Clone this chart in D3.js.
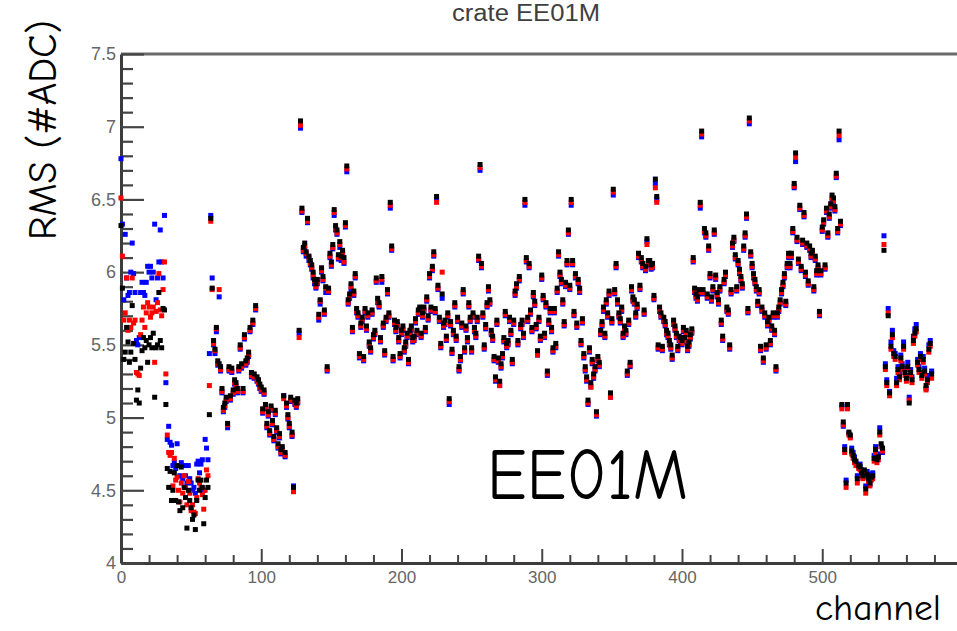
<!DOCTYPE html>
<html>
<head>
<meta charset="utf-8">
<script src="https://cdn.jsdelivr.net/npm/d3@7"></script>
<style>
  html, body { margin: 0; padding: 0; background: #fff; }
  svg { display: block; }
</style>
</head>
<body>
<svg id="chart" width="957" height="631"></svg>
<script>
// RMS noise per channel for crate EE01M, three runs (blue, red, black).
const titleText = "crate EE01M";
const yLabel = "RMS (#ADC)";
const xLabel = "channel";
const crateLabel = "EE01M";
const xMajorTicks = [0, 100, 200, 300, 400, 500];
const yMajorTicks = [4, 4.5, 5, 5.5, 6, 6.5, 7, 7.5];

const rmsBlack = [
6.32,5.89,5.40,5.45,5.62,5.52,5.38,5.45,5.77,5.51,
5.40,5.12,5.19,5.10,5.34,5.46,5.55,5.48,5.53,5.38,
5.50,5.55,5.48,5.58,5.14,5.48,5.50,5.86,5.53,5.48,
5.75,5.74,5.09,4.65,4.52,4.63,4.43,4.50,4.62,4.43,
4.67,4.42,4.36,4.66,4.38,4.52,4.45,4.24,4.50,4.43,
4.38,4.30,4.33,4.23,4.43,4.57,4.50,4.57,4.52,4.27,
4.45,4.57,4.52,5.02,6.37,5.89,5.53,5.47,5.62,5.39,
5.37,5.35,5.20,5.07,5.10,5.14,4.96,5.35,5.15,5.34,
5.19,5.26,5.24,5.20,5.35,5.50,5.37,5.20,5.57,5.39,
5.41,5.45,5.62,5.31,5.67,5.30,5.77,5.28,5.26,5.23,
5.21,5.06,5.19,5.09,4.96,5.04,4.91,5.08,4.98,4.87,
5.05,4.93,4.82,4.89,4.78,4.80,5.15,4.76,5.10,5.02,
4.96,5.14,4.90,4.52,5.12,5.10,5.13,5.60,7.04,6.44,
6.17,6.20,6.14,6.37,6.11,6.08,6.05,6.00,5.95,5.92,
5.95,5.71,5.81,6.03,5.97,5.74,5.90,5.35,5.89,6.13,
6.07,6.19,6.43,6.32,6.29,6.12,6.21,6.11,6.15,6.10,
6.34,6.73,5.81,5.85,5.92,5.62,5.87,5.99,5.75,5.72,
5.44,5.65,5.69,5.42,5.75,5.63,5.72,5.52,5.48,5.74,
5.57,5.60,5.96,5.82,5.79,5.55,5.97,5.65,5.46,5.69,
5.88,5.72,6.48,6.18,5.42,5.67,5.62,5.66,5.55,5.44,
5.60,5.63,5.48,5.52,5.58,5.40,5.60,5.63,5.55,5.56,
5.68,5.60,5.74,5.76,5.58,5.72,5.76,5.62,5.83,5.70,
5.99,5.76,6.04,6.14,5.75,6.52,5.91,5.69,5.51,5.85,
5.65,5.67,5.56,5.72,5.13,5.66,5.47,5.60,5.79,5.56,
5.69,5.35,5.42,5.65,5.88,5.48,5.63,5.55,5.79,5.69,
5.48,5.72,5.62,5.58,5.69,6.11,6.74,6.06,5.72,5.50,
5.64,5.79,5.90,5.81,5.60,5.56,5.42,5.28,5.67,5.41,
5.25,5.37,5.44,5.55,5.73,5.51,5.53,5.69,5.60,5.40,
5.67,5.87,5.92,5.53,5.97,5.64,5.67,5.58,6.50,6.10,
5.69,6.06,5.74,5.62,5.86,5.80,5.64,5.46,5.69,5.56,
5.98,5.84,5.58,5.79,5.32,5.67,5.75,5.62,5.48,5.75,
5.51,5.89,6.14,6.00,5.95,5.81,5.66,5.93,6.08,6.29,
5.91,6.50,6.08,5.73,5.99,5.65,5.95,5.89,5.53,5.68,
5.44,5.35,5.28,5.12,5.48,5.24,5.40,5.30,5.35,5.04,
5.42,5.38,5.60,5.66,5.76,5.58,5.81,5.72,5.87,5.17,
5.68,6.57,5.88,6.06,5.81,5.72,5.68,5.76,5.58,5.63,
5.60,5.32,5.67,5.38,5.90,5.83,5.81,5.72,5.78,6.13,
5.91,6.10,6.06,5.74,6.04,6.23,6.08,6.08,6.05,6.06,
5.84,6.64,6.52,5.50,5.76,5.72,5.49,5.69,5.66,5.60,
5.58,5.53,5.50,5.43,5.67,5.63,5.58,5.49,5.56,5.55,
5.53,5.62,5.55,5.60,5.49,5.52,5.57,5.61,6.10,5.89,
5.85,5.83,5.88,6.48,6.97,5.88,6.30,6.27,5.85,6.18,
5.99,5.83,5.90,6.29,5.98,5.86,5.81,5.90,5.67,5.56,
5.95,6.00,5.76,5.74,5.50,5.88,6.20,6.24,6.12,5.90,
6.08,6.02,5.97,5.92,6.18,6.27,6.40,5.75,7.06,6.14,
6.06,5.99,5.95,5.90,5.80,5.88,5.49,5.76,5.41,5.72,
5.50,5.66,5.69,5.53,5.63,5.72,5.60,5.35,5.72,5.76,
5.81,5.88,5.93,5.99,5.80,6.06,6.13,6.06,6.13,6.30,
6.61,6.82,6.24,6.09,6.46,6.04,6.22,6.41,6.00,6.20,
5.94,6.18,6.13,6.15,5.90,6.11,6.01,6.05,5.73,6.01,
6.31,6.36,6.05,6.44,6.27,6.40,6.47,6.53,6.51,6.45,
6.68,6.30,6.97,6.35,5.09,4.97,4.78,4.55,5.09,4.90,
4.88,4.77,4.74,4.71,4.70,4.58,4.67,4.66,4.62,4.60,
4.64,4.51,4.61,4.58,4.55,4.59,4.60,4.72,4.78,4.71,
4.73,4.90,4.82,4.79,6.15,5.35,5.24,5.70,5.17,5.49,
5.57,5.44,5.42,5.24,5.33,5.28,5.41,5.35,5.49,5.31,
5.27,5.35,5.10,5.31,5.26,5.53,5.58,5.61,5.38,5.33,
5.42,5.29,5.40,5.32,5.22,5.26,5.47,5.51,5.30
];

const rmsRed = [
6.51,6.11,5.67,5.72,5.96,5.60,5.67,5.62,5.96,5.65,
5.67,5.31,5.30,5.29,5.57,5.67,5.76,5.62,5.72,5.79,
5.76,5.69,5.72,5.76,5.38,5.73,5.79,5.99,5.74,5.70,
5.88,6.07,5.30,4.88,4.76,4.74,4.76,4.53,4.72,4.57,
4.59,4.50,4.42,4.55,4.48,4.60,4.52,4.40,4.56,4.48,
4.36,4.40,4.35,4.34,4.45,4.58,4.55,4.52,4.47,4.37,
4.50,4.64,4.60,5.22,6.35,5.88,5.51,5.46,5.61,5.37,
5.88,5.33,5.18,5.05,5.08,5.12,4.95,5.33,5.13,5.32,
5.17,5.24,5.22,5.18,5.33,5.48,5.35,5.18,5.55,5.37,
5.39,5.43,5.60,5.29,5.65,5.28,5.75,5.26,5.24,5.21,
5.19,5.04,5.17,5.07,4.94,5.02,4.89,5.06,4.96,4.85,
5.03,4.91,4.80,4.87,4.76,4.78,5.13,4.74,5.08,5.00,
4.94,5.12,4.88,4.49,5.10,5.08,5.11,5.55,7.01,6.42,
6.15,6.18,6.13,6.35,6.10,6.06,6.03,5.98,5.94,5.90,
5.93,5.69,5.80,6.01,5.95,5.72,5.89,5.33,5.87,6.11,
6.05,6.17,6.41,6.30,6.27,6.10,6.19,6.10,6.13,6.07,
6.32,6.71,5.79,5.83,5.90,5.60,5.85,5.97,5.73,5.70,
5.42,5.63,5.67,5.40,5.73,5.61,5.70,5.50,5.46,5.72,
5.55,5.58,5.94,5.80,5.77,5.53,5.95,5.63,5.44,5.67,
5.86,5.70,6.46,6.16,5.40,5.65,5.60,5.64,5.53,5.42,
5.58,5.61,5.46,5.50,5.56,5.38,5.58,5.61,5.53,5.54,
5.66,5.58,5.72,5.74,5.56,5.70,5.74,5.60,5.81,5.68,
5.97,5.74,6.02,6.12,5.73,6.48,5.89,5.67,5.49,6.00,
5.63,5.65,5.54,5.70,5.11,5.64,5.45,5.58,5.77,5.54,
5.67,5.33,5.40,5.63,5.86,5.46,5.61,5.53,5.77,5.67,
5.46,5.70,5.60,5.56,5.67,6.09,6.72,6.04,5.70,5.48,
5.62,5.77,5.88,5.79,5.58,5.54,5.40,5.26,5.65,5.39,
5.22,5.35,5.42,5.53,5.71,5.49,5.51,5.67,5.58,5.38,
5.65,5.85,5.90,5.51,5.95,5.62,5.65,5.56,6.48,6.08,
5.67,6.04,5.72,5.60,5.84,5.78,5.62,5.43,5.67,5.54,
5.96,5.82,5.56,5.77,5.30,5.65,5.73,5.60,5.46,5.73,
5.49,5.87,6.12,5.98,5.93,5.79,5.64,5.91,6.06,6.27,
5.89,6.48,6.06,5.71,5.97,5.63,5.93,5.87,5.51,5.66,
5.42,5.33,5.26,5.10,5.46,5.21,5.38,5.28,5.33,5.02,
5.40,5.36,5.58,5.64,5.74,5.56,5.79,5.70,5.85,5.14,
5.66,6.55,5.86,6.04,5.79,5.70,5.66,5.74,5.56,5.61,
5.58,5.30,5.65,5.36,5.88,5.81,5.79,5.70,5.76,6.11,
5.89,6.08,6.04,5.72,6.02,6.19,6.06,6.06,6.03,6.04,
5.82,6.58,6.48,5.48,5.74,5.70,5.47,5.67,5.64,5.58,
5.56,5.51,5.48,5.41,5.65,5.61,5.56,5.47,5.54,5.53,
5.51,5.60,5.53,5.58,5.47,5.50,5.55,5.59,6.08,5.87,
5.83,5.81,5.86,6.46,6.95,5.86,6.28,6.25,5.83,6.16,
5.97,5.81,5.88,6.27,5.96,5.84,5.79,5.88,5.65,5.54,
5.93,5.98,5.74,5.72,5.48,5.86,6.18,6.22,6.10,5.88,
6.06,6.00,5.95,5.90,6.16,6.25,6.38,5.73,7.04,6.12,
6.04,5.97,5.93,5.88,5.78,5.86,5.47,5.74,5.39,5.70,
5.48,5.64,5.67,5.51,5.61,5.70,5.58,5.33,5.70,5.74,
5.79,5.86,5.91,5.97,5.78,6.04,6.11,6.04,6.11,6.28,
6.59,6.79,6.22,6.07,6.44,6.02,6.20,6.39,5.98,6.18,
5.92,6.16,6.11,6.13,5.88,6.09,5.99,6.03,5.71,5.99,
6.29,6.34,6.03,6.42,6.25,6.38,6.45,6.51,6.49,6.43,
6.66,6.28,6.94,6.33,5.06,4.95,4.76,4.52,5.06,4.88,
4.86,4.75,4.72,4.69,4.67,4.55,4.65,4.64,4.60,4.58,
4.62,4.48,4.59,4.56,4.53,4.57,4.58,4.70,4.76,4.69,
4.71,4.88,4.80,4.77,6.19,5.33,5.22,5.72,5.15,5.47,
5.55,5.42,5.40,5.22,5.31,5.26,5.39,5.33,5.47,5.29,
5.25,5.33,5.12,5.29,5.24,5.51,5.56,5.59,5.36,5.31,
5.40,5.27,5.38,5.30,5.19,5.24,5.45,5.49,5.27
];

const rmsBlue = [
6.78,6.33,5.81,6.26,5.96,5.84,5.86,6.00,6.20,5.99,
5.86,5.53,5.50,5.55,5.86,5.93,5.86,5.84,5.93,6.04,
6.00,6.04,5.96,6.00,6.33,5.81,5.96,6.07,6.29,6.07,
5.96,6.39,5.24,4.85,4.94,4.83,4.81,4.67,4.69,4.65,
4.82,4.67,4.60,4.69,4.58,4.67,4.60,4.55,4.67,4.58,
4.55,4.50,4.52,4.48,4.68,4.70,4.62,4.68,4.71,4.50,
4.85,4.79,4.71,5.44,6.39,5.96,5.50,5.44,5.59,5.36,
5.83,5.32,5.17,5.04,5.07,5.11,4.93,5.32,5.12,5.31,
5.16,5.23,5.21,5.17,5.32,5.47,5.34,5.17,5.54,5.36,
5.38,5.42,5.59,5.28,5.64,5.27,5.74,5.25,5.23,5.20,
5.18,5.03,5.16,5.06,4.93,5.01,4.88,5.05,4.95,4.84,
5.02,4.90,4.79,4.86,4.75,4.77,5.15,4.73,5.07,4.99,
4.93,5.11,4.87,4.53,5.09,5.07,5.10,5.58,6.99,6.41,
6.14,6.16,6.11,6.34,6.08,6.05,6.02,5.96,5.92,5.89,
5.92,5.67,5.78,6.00,5.94,5.71,5.86,5.32,5.86,6.10,
6.04,6.16,6.39,6.29,6.26,6.09,6.17,6.08,6.12,6.06,
6.31,6.69,5.78,5.82,5.88,5.59,5.84,5.96,5.72,5.69,
5.41,5.62,5.66,5.39,5.72,5.60,5.69,5.49,5.45,5.71,
5.54,5.57,5.93,5.79,5.76,5.52,5.93,5.62,5.43,5.66,
5.85,5.69,6.44,6.15,5.39,5.64,5.59,5.63,5.52,5.41,
5.57,5.60,5.45,5.49,5.55,5.37,5.57,5.60,5.52,5.53,
5.65,5.57,5.71,5.73,5.55,5.69,5.73,5.59,5.80,5.67,
5.96,5.73,6.01,6.11,5.72,6.50,5.88,5.66,5.48,5.82,
5.62,5.64,5.53,5.69,5.09,5.63,5.44,5.57,5.76,5.53,
5.66,5.32,5.39,5.62,5.85,5.45,5.60,5.52,5.76,5.66,
5.45,5.69,5.59,5.55,5.66,6.08,6.70,6.03,5.69,5.47,
5.61,5.76,5.87,5.78,5.57,5.53,5.39,5.25,5.64,5.38,
5.22,5.34,5.41,5.52,5.70,5.48,5.50,5.66,5.57,5.37,
5.64,5.84,5.89,5.50,5.94,5.61,5.64,5.55,6.46,6.07,
5.66,6.03,5.71,5.59,5.83,5.77,5.61,5.43,5.66,5.53,
5.95,5.81,5.55,5.76,5.29,5.64,5.72,5.59,5.45,5.72,
5.48,5.86,6.11,5.97,5.92,5.78,5.63,5.90,6.05,6.26,
5.88,6.46,6.05,5.70,5.96,5.62,5.92,5.86,5.50,5.65,
5.41,5.32,5.25,5.09,5.45,5.21,5.37,5.27,5.32,5.01,
5.39,5.35,5.57,5.63,5.73,5.55,5.78,5.69,5.84,5.14,
5.65,6.53,5.85,6.03,5.78,5.69,5.65,5.73,5.55,5.60,
5.57,5.29,5.64,5.35,5.87,5.80,5.78,5.69,5.75,6.10,
5.88,6.07,6.03,5.71,6.01,6.21,6.05,6.05,6.02,6.03,
5.81,6.61,6.50,5.47,5.73,5.69,5.46,5.66,5.63,5.57,
5.55,5.50,5.47,5.40,5.64,5.60,5.55,5.46,5.53,5.52,
5.50,5.59,5.52,5.57,5.46,5.49,5.54,5.58,6.07,5.86,
5.82,5.80,5.85,6.44,6.93,5.85,6.27,6.24,5.82,6.15,
5.96,5.80,5.87,6.26,5.95,5.83,5.78,5.87,5.64,5.53,
5.92,5.97,5.73,5.71,5.47,5.85,6.17,6.21,6.09,5.87,
6.05,5.99,5.94,5.89,6.15,6.24,6.37,5.72,7.02,6.11,
6.03,5.96,5.92,5.87,5.77,5.85,5.46,5.73,5.38,5.69,
5.47,5.63,5.66,5.50,5.60,5.69,5.57,5.32,5.69,5.73,
5.78,5.85,5.90,5.96,5.77,6.03,6.10,6.03,6.10,6.27,
6.58,6.76,6.21,6.06,6.43,6.01,6.19,6.38,5.97,6.17,
5.91,6.15,6.10,6.12,5.87,6.08,5.98,6.02,5.70,5.98,
6.28,6.33,6.02,6.41,6.24,6.37,6.44,6.50,6.48,6.42,
6.65,6.27,6.91,6.32,5.08,4.94,4.80,4.57,5.08,4.89,
4.87,4.79,4.76,4.73,4.69,4.60,4.66,4.68,4.64,4.59,
4.63,4.53,4.63,4.57,4.54,4.61,4.62,4.74,4.80,4.73,
4.75,4.93,4.80,4.76,6.25,5.37,5.26,5.75,5.18,5.52,
5.60,5.46,5.44,5.27,5.35,5.30,5.43,5.37,5.52,5.34,
5.29,5.38,5.14,5.33,5.28,5.56,5.61,5.64,5.40,5.35,
5.44,5.31,5.42,5.34,5.20,5.29,5.50,5.53,5.32
];

const seriesList = [
  { name: "blue", color: "#0000ff", values: rmsBlue },
  { name: "red", color: "#ff0000", values: rmsRed },
  { name: "black", color: "#000000", values: rmsBlack }
];

const svg = d3.select("#chart");

const x = d3.scaleLinear().domain([0, 600]).range([121, 121 + 600 * 1.4025]);
const y = d3.scaleLinear().domain([4, 7.5]).range([563, 54]);

const labelFont = "'Liberation Sans', Arial, Helvetica, sans-serif";
const handFont = "'Comic Sans MS', 'Comic Neue', 'DejaVu Sans', sans-serif";
const tickColor = "#444";

// Title
svg.append("text")
  .attr("x", 526).attr("y", 21)
  .attr("text-anchor", "middle")
  .attr("font-family", labelFont)
  .attr("font-size", 23)
  .attr("textLength", 148)
  .attr("lengthAdjust", "spacingAndGlyphs")
  .attr("fill", "#404040")
  .text(titleText);

// Top frame line
svg.append("line")
  .attr("x1", x(0)).attr("x2", 957)
  .attr("y1", y(7.5)).attr("y2", y(7.5))
  .attr("stroke", "#6a6a6a").attr("stroke-width", 3);

// X axis: minor then major ticks, pointing into the plot
const xMinor = d3.range(0, 601, 20).filter(v => v % 100 !== 0);
svg.append("g")
  .attr("transform", `translate(0,${y(4)})`)
  .call(d3.axisBottom(x).tickValues(xMinor).tickSizeInner(-8).tickSizeOuter(0).tickFormat(""))
  .call(g => g.select(".domain").remove())
  .call(g => g.selectAll(".tick line").attr("stroke", tickColor).attr("stroke-width", 2));

svg.append("g")
  .attr("transform", `translate(0,${y(4)})`)
  .call(d3.axisBottom(x).tickValues(xMajorTicks).tickSizeInner(-14).tickSizeOuter(0).tickPadding(8).tickFormat(d3.format("d")))
  .call(g => g.select(".domain").attr("stroke", "#3c3c3c").attr("stroke-width", 3))
  .call(g => g.selectAll(".tick line").attr("stroke", tickColor).attr("stroke-width", 2))
  .call(g => g.selectAll("text")
    .attr("font-family", labelFont).attr("font-size", 17).attr("fill", "#666"));

// Y axis: minor every 0.1, major every 0.5
const yMinor = d3.range(40, 76, 1).map(v => v / 10).filter(v => Math.round(v * 10) % 5 !== 0);
svg.append("g")
  .attr("transform", `translate(${x(0)},0)`)
  .call(d3.axisLeft(y).tickValues(yMinor).tickSizeInner(-12).tickSizeOuter(0).tickFormat(""))
  .call(g => g.select(".domain").remove())
  .call(g => g.selectAll(".tick line").attr("stroke", tickColor).attr("stroke-width", 2.2));

svg.append("g")
  .attr("transform", `translate(${x(0)},0)`)
  .call(d3.axisLeft(y).tickValues(yMajorTicks).tickSizeInner(-23).tickSizeOuter(0).tickPadding(5).tickFormat(d => String(d)))
  .call(g => g.select(".domain").attr("stroke", "#3c3c3c").attr("stroke-width", 3))
  .call(g => g.selectAll(".tick line").attr("stroke", tickColor).attr("stroke-width", 2.2))
  .call(g => g.selectAll("text")
    .attr("font-family", labelFont).attr("font-size", 18).attr("fill", "#666"));

// Markers: blue first, then red, black on top
const plot = svg.append("g");
seriesList.forEach(s => {
  plot.append("g")
    .attr("fill", s.color)
    .selectAll("rect")
    .data(s.values)
    .join("rect")
    .attr("x", (d, i) => x(i) - 2.5)
    .attr("y", d => y(d) - 2.5)
    .attr("width", 5)
    .attr("height", 5);
});

// Hand-written style labels
svg.append("text")
  .attr("transform", "translate(56,130) rotate(-90)")
  .attr("text-anchor", "middle")
  .attr("font-family", handFont)
  .attr("font-size", 40)
  .attr("textLength", 220)
  .attr("lengthAdjust", "spacingAndGlyphs")
  .attr("fill", "#000")
  .text(yLabel);

svg.append("text")
  .attr("x", 941).attr("y", 620)
  .attr("text-anchor", "end")
  .attr("font-family", handFont)
  .attr("font-size", 36)
  .attr("textLength", 126)
  .attr("lengthAdjust", "spacingAndGlyphs")
  .attr("fill", "#000")
  .text(xLabel);

svg.append("text")
  .attr("x", 487).attr("y", 499)
  .attr("font-family", handFont)
  .attr("font-size", 72)
  .attr("textLength", 201)
  .attr("lengthAdjust", "spacingAndGlyphs")
  .attr("fill", "#000")
  .text(crateLabel);
</script>
</body>
</html>
